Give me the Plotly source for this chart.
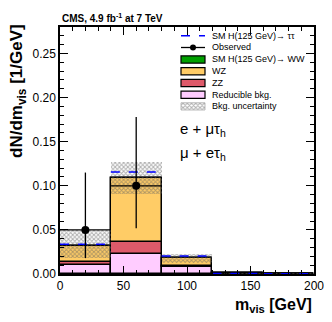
import plotly.graph_objects as go

# ---- data ----
bin_edges = [0, 40, 80, 120, 160, 200]
reducible = [0.0105, 0.0226, 0.0080, 0.0003, 0.0002]
zz = [0.0035, 0.0139, 0.0010, 0.0001, 0.0001]
wz = [0.0175, 0.0720, 0.0087, 0.0002, 0.0001]
hww = [0.0003, 0.0005, 0.0001, 0.0, 0.0]
htt = [0.0018, 0.0067, 0.0025, 0.0001, 0.0]
unc_lo = [0.0177, 0.0910, 0.0128, 0.0, 0.0]
unc_hi = [0.0504, 0.1268, 0.0226, 0.0015, 0.0012]
obs_x = [20, 60]
obs_y = [0.05, 0.10]
obs_err_up = [0.065, 0.078]
obs_err_dn = [0.032, 0.048]
obs_xerr = [20, 20]
y_tickvals = [0.0, 0.05, 0.10, 0.15, 0.20, 0.25]
x_tickvals = [0, 50, 100, 150, 200]

legend_labels = ["SM H(125 GeV)\u2192 \u03c4\u03c4", "Observed", "SM H(125 GeV)\u2192 WW",
                 "WZ", "ZZ", "Reducible bkg.", "Bkg. uncertainty"]

C_GREEN = "#00A000"
C_WZ = "#FFCC66"
C_ZZ = "#DE5A6A"
C_RED = "#FFCCFF"
FONT = "Liberation Sans, Arial, sans-serif"

centers = [(a + b) / 2 for a, b in zip(bin_edges[:-1], bin_edges[1:])]
widths = [b - a for a, b in zip(bin_edges[:-1], bin_edges[1:])]

fig = go.Figure()

base = [0.0] * len(centers)
for vals, col in [(reducible, C_RED), (zz, C_ZZ), (wz, C_WZ), (hww, C_GREEN)]:
    fig.add_trace(go.Bar(x=centers, y=vals, base=list(base), width=widths,
                         marker=dict(color=col, line=dict(color="black", width=1.5)),
                         showlegend=False, hoverinfo="skip"))
    base = [b + v for b, v in zip(base, vals)]
total = base

# uncertainty band
fig.add_trace(go.Bar(x=centers, y=[h - l for h, l in zip(unc_hi, unc_lo)], base=unc_lo,
                     width=widths,
                     marker=dict(color="rgba(0,0,0,0)", line=dict(width=0),
                                 pattern=dict(shape="x", fgcolor="#606060", size=3,
                                              solidity=0.55, fillmode="overlay")),
                     showlegend=False, hoverinfo="skip"))

# H->tautau dashed line on top of stack (horizontal segments only)
step_y = [t + h for t, h in zip(total, htt)]
seg_x, seg_y = [], []
for a, b, v in zip(bin_edges[:-1], bin_edges[1:], step_y):
    seg_x += [a, b, None]
    seg_y += [v, v, None]
fig.add_trace(go.Scatter(x=seg_x, y=seg_y, mode="lines",
                         line=dict(color="#0000FF", width=1.5, dash="dash"),
                         showlegend=False, hoverinfo="skip"))

# observed
fig.add_trace(go.Scatter(x=obs_x, y=obs_y, mode="markers",
                         marker=dict(color="black", size=8),
                         error_y=dict(type="data", symmetric=False, array=obs_err_up,
                                      arrayminus=obs_err_dn, color="black", thickness=1.3, width=0),
                         error_x=dict(type="data", array=obs_xerr, color="black",
                                      thickness=1.3, width=0),
                         showlegend=False, hoverinfo="skip"))

# ---- custom legend (page-pixel helpers, relative to plot area) ----
L, R, T, B = 60, 314, 27, 274
OFF = 8  # browser body margin
def px(xp):
    return (xp - L) / (R - L)
def py(yp):
    return (B - yp) / (B - T)

rows = [35.7, 47.5, 59.5, 71.3, 83.0, 94.7, 106.4]
bx0, bx1 = px(181), px(205)
shapes = []
shapes.append(dict(type="line", xref="paper", yref="paper", x0=bx0, x1=bx1, y0=py(rows[0]), y1=py(rows[0]),
                   line=dict(color="#0000FF", width=1.5, dash="dash")))
shapes.append(dict(type="line", xref="paper", yref="paper", x0=bx0, x1=bx1, y0=py(rows[1]), y1=py(rows[1]),
                   line=dict(color="black", width=1.3)))
shapes.append(dict(type="circle", xref="paper", yref="paper", x0=px(190), x1=px(196),
                   y0=py(rows[1] + 3), y1=py(rows[1] - 3), fillcolor="black", line=dict(width=0)))
for r, col in zip(rows[2:6], [C_GREEN, C_WZ, C_ZZ, C_RED]):
    shapes.append(dict(type="rect", xref="paper", yref="paper", x0=bx0, x1=bx1,
                       y0=py(r + 3.6), y1=py(r - 3.6), fillcolor=col,
                       line=dict(color="black", width=1.2)))
shapes.append(dict(type="rect", xref="paper", yref="paper", x0=bx0, x1=bx1,
                   y0=py(rows[6] + 3.6), y1=py(rows[6] - 3.6), fillcolor="rgba(0,0,0,0)",
                   line=dict(color="#aaaaaa", width=0.8)))

hx = [bx0, bx1, bx1, bx0, bx0]
hy = [py(rows[6] + 3.6), py(rows[6] + 3.6), py(rows[6] - 3.6), py(rows[6] - 3.6), py(rows[6] + 3.6)]
fig.add_trace(go.Scatter(x=hx, y=hy, xaxis="x2", yaxis="y2", mode="lines", fill="toself",
                         fillcolor="rgba(0,0,0,0)", line=dict(width=0),
                         fillpattern=dict(shape="x", fgcolor="#606060", size=3, solidity=0.55,
                                          fillmode="overlay"),
                         showlegend=False, hoverinfo="skip"))

annotations = []
for r, lab in zip(rows, legend_labels):
    annotations.append(dict(text=lab, xref="paper", yref="paper", x=px(210), y=py(r),
                            xanchor="left", yanchor="middle", showarrow=False,
                            font=dict(family=FONT, size=9, color="black")))

annotations.append(dict(text="e + \u03bc\u03c4<sub>h</sub>", xref="paper", yref="paper",
                        x=px(178), y=py(129), xanchor="left", yanchor="middle", showarrow=False,
                        font=dict(family=FONT, size=15, color="black")))
annotations.append(dict(text="\u03bc + e\u03c4<sub>h</sub>", xref="paper", yref="paper",
                        x=px(178), y=py(153), xanchor="left", yanchor="middle", showarrow=False,
                        font=dict(family=FONT, size=15, color="black")))
annotations.append(dict(text="<b>CMS, 4.9 fb<sup>-1</sup> at 7 TeV</b>", xref="paper", yref="paper",
                        x=0, y=py(18), xanchor="left", yanchor="middle", showarrow=False,
                        font=dict(family=FONT, size=10, color="black")))
annotations.append(dict(text="<b>dN/dm<sub>vis</sub> [1/GeV]</b>", xref="paper", yref="paper",
                        x=px(18), y=py(22), xanchor="center", yanchor="top", textangle=-90,
                        showarrow=False, font=dict(family=FONT, size=17, color="black")))
annotations.append(dict(text="<b>m<sub>vis</sub> [GeV]</b>", xref="paper", yref="paper",
                        x=1.0, y=py(305), xanchor="right", yanchor="middle",
                        showarrow=False, font=dict(family=FONT, size=16, color="black")))

axis_common = dict(showline=True, linecolor="black", linewidth=1.5, mirror="ticks",
                   ticks="inside", ticklen=8, tickwidth=1, tickcolor="black",
                   showgrid=False, zeroline=False,
                   tickfont=dict(family=FONT, size=12, color="black"))

W, H = 332 - OFF, 322 - OFF
fig.update_layout(
    width=W, height=H,
    margin=dict(l=L - OFF, r=332 - R, t=T - OFF, b=322 - B, autoexpand=False),
    paper_bgcolor="white", plot_bgcolor="white",
    barmode="overlay", bargap=0,
    showlegend=False,
    xaxis=dict(range=[0, 200], tickvals=x_tickvals,
               minor=dict(dtick=10, ticks="inside", ticklen=4, tickcolor="black", showgrid=False),
               **axis_common),
    yaxis=dict(range=[0, 0.28], tickvals=y_tickvals, tickformat=".2f",
               minor=dict(dtick=0.01, ticks="inside", ticklen=4, tickcolor="black", showgrid=False),
               **axis_common),
    xaxis2=dict(overlaying="x", range=[0, 1], visible=False, fixedrange=True),
    yaxis2=dict(overlaying="y", range=[0, 1], visible=False, fixedrange=True),
    shapes=shapes,
    annotations=annotations,
)

fig.write_html("out.html")
